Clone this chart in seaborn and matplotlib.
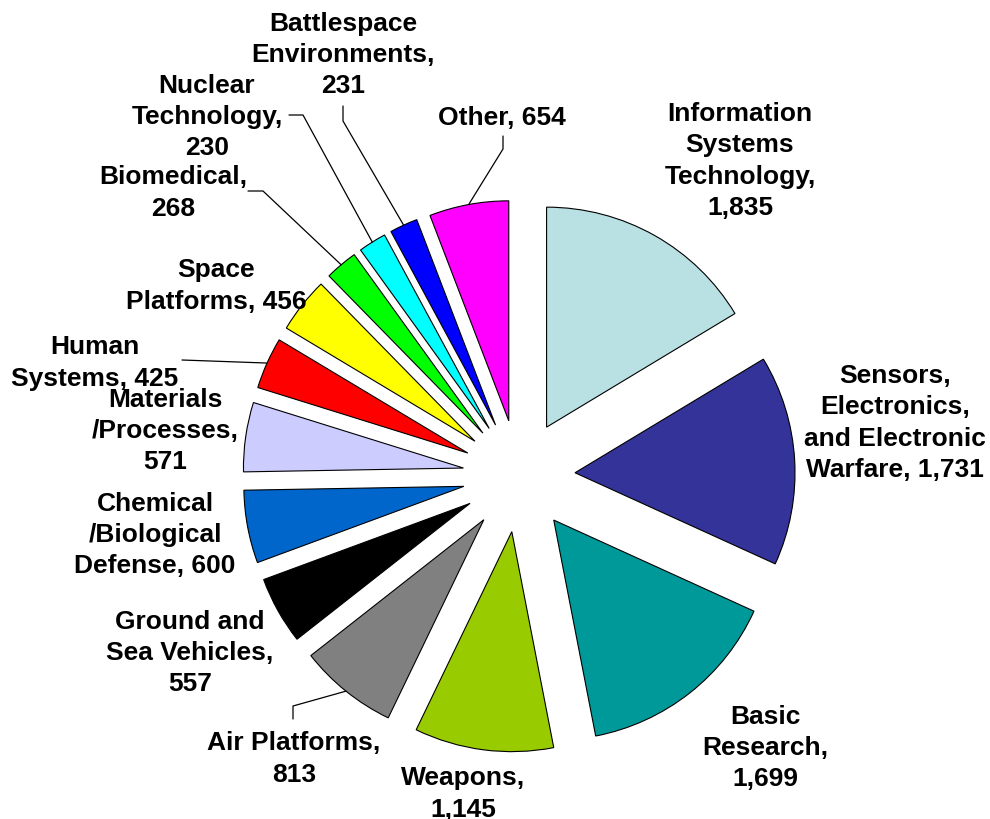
import matplotlib
matplotlib.use("Agg")
import matplotlib.pyplot as plt
import seaborn as sns
import numpy as np

# ---- data ----
categories = [
    "Information Systems Technology",
    "Sensors, Electronics, and Electronic Warfare",
    "Basic Research",
    "Weapons",
    "Air Platforms",
    "Ground and Sea Vehicles",
    "Chemical/Biological Defense",
    "Materials/Processes",
    "Human Systems",
    "Space Platforms",
    "Biomedical",
    "Nuclear Technology",
    "Battlespace Environments",
    "Other",
]
values = [1835, 1731, 1699, 1145, 813, 557, 600, 571, 425, 456, 268, 230, 231, 654]
label_prefixes = [
    "Information\nSystems\nTechnology,\n",
    "Sensors,\nElectronics,\nand Electronic\nWarfare, ",
    "Basic\nResearch,\n",
    "Weapons,\n",
    "Air Platforms,\n",
    "Ground and\nSea Vehicles,\n",
    "Chemical\n/Biological\nDefense, ",
    "Materials\n/Processes,\n",
    "Human\nSystems, ",
    "Space\nPlatforms, ",
    "Biomedical,\n",
    "Nuclear\nTechnology,\n",
    "Battlespace\nEnvironments,\n",
    "Other, ",
]
colors = ["#B9E0E3", "#333399", "#009999", "#99CC00", "#808080", "#000000",
          "#0066CC", "#CCCCFF", "#FF0000", "#FFFF00", "#00FF00", "#00FFFF",
          "#0000FF", "#FF00FF"]

# ---- layout (pixels in a 990x820 canvas) ----
W, H = 990, 820
CX, CY, R = 519, 477, 220
label_px = [(740, 161), (895, 423), (765, 748), (463, 794), (294, 759),
            (190, 653), (155, 535), (165, 431), (95, 363), (216, 286),
            (173, 193), (207, 117), (343, 55), (502, 118)]
# leader elbows (label side), keyed by slice index
leader_px = {
    4: [(293, 720), (293, 707)],
    8: [(182, 361)],
    10: [(248, 192), (263, 192)],
    11: [(289, 116), (303, 116)],
    12: [(343, 107), (343, 122)],
    13: [(503, 137), (503, 150)],
}

def px2d(p):
    return ((p[0] - CX) / R, (CY - p[1]) / R)

sns.set_theme(style="white")
plt.rcParams["font.family"] = ["Liberation Sans", "DejaVu Sans"]

fig = plt.figure(figsize=(W / 100, H / 100), dpi=100)
ax = fig.add_axes([0, 0, 1, 1])

explode = [0.255] * len(values)
wedges, _ = ax.pie(values, colors=colors, explode=explode, startangle=90,
                   counterclock=False, radius=1.0,
                   wedgeprops=dict(edgecolor="black", linewidth=0.8))

ax.set_xlim(-CX / R, (W - CX) / R)
ax.set_ylim(-(H - CY) / R, CY / R)
ax.set_aspect("equal", adjustable="datalim")
ax.axis("off")

for i, (pref, v) in enumerate(zip(label_prefixes, values)):
    x, y = px2d(label_px[i])
    ax.text(x, y, f"{pref}{v:,}", ha="center", va="center",
            fontsize=19, fontweight="bold", color="black", linespacing=1.38)

for i, pts in leader_px.items():
    w = wedges[i]
    mid = np.deg2rad((w.theta1 + w.theta2) / 2)
    cx, cy = w.center
    end = (cx + w.r * np.cos(mid), cy + w.r * np.sin(mid))
    xs = [px2d(p)[0] for p in pts] + [end[0]]
    ys = [px2d(p)[1] for p in pts] + [end[1]]
    ax.plot(xs, ys, color="black", linewidth=0.9)

fig.savefig("out.png", dpi=100, facecolor="white")
